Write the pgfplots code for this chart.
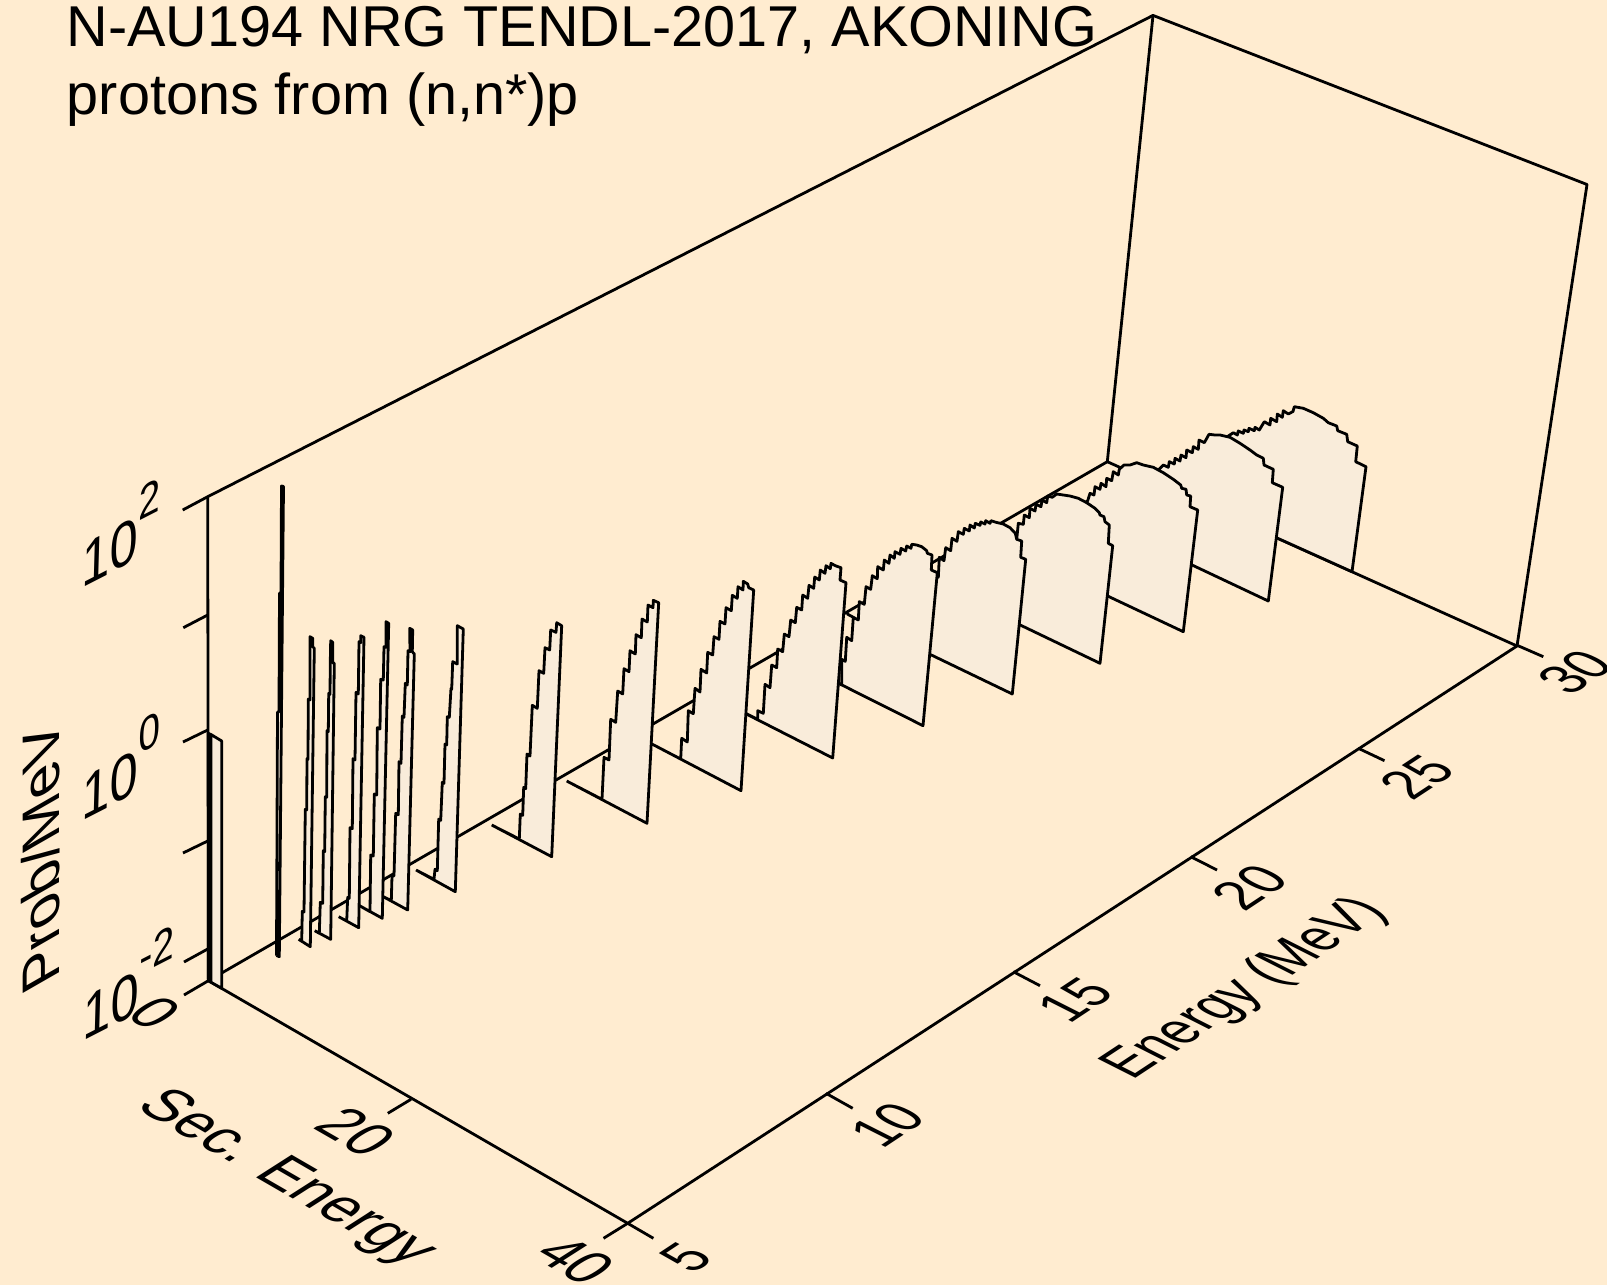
\documentclass[border=0pt]{standalone}
\usepackage{pgfplots}
\usepackage{fontspec}
\setmainfont{Liberation Sans}
\pgfplotsset{compat=1.18}
\definecolor{bg}{HTML}{FFECD0}
\definecolor{slice}{HTML}{F9ECDA}
\tikzset{slc/.style={fill=slice}}
\newcommand\lab[8][60]{\node[cm={#4,#5,#6,#7,(0,0)},anchor=center,inner sep=0pt,font=\fontsize{#1}{#1}\selectfont] at (axis cs:#2,#3) {#8};}
\newcommand\pw[2]{#1\raisebox{36pt}{\fontsize{46}{46}\selectfont #2}}
\begin{document}
\begin{tikzpicture}
\path[use as bounding box, fill=bg] (0,0) rectangle (1607pt,1285pt);
\begin{axis}[at={(0,0)},anchor=south west,x=1pt,y=1pt,xmin=0,xmax=1607,ymin=0,ymax=1285,y dir=reverse,hide axis,clip=false,
  cycle list={{black}},
  every axis plot/.append style={no markers,line width=2.8pt,line join=round,draw=black}]
% frame
\addplot coordinates {(182.7,510)(207.7,496.7)(1153,15.4)(1587,184.5)(1517,646)};
\addplot coordinates {(1153,15.4)(1107.3,461.7)(1517,646)};
\addplot coordinates {(207.7,496.7)(208.4,980.7)(627.7,1223.3)(1517,646)};
\addplot coordinates {(208.4,980.7)(1107.3,461.7)};
% z ticks
\addplot coordinates {(183.3,627.7)(207.7,615)};
\addplot coordinates {(183,742)(207.7,730)};
\addplot coordinates {(183,853)(207.7,841)};
\addplot coordinates {(184,962)(207.7,949)};
\addplot coordinates {(184,995)(208.4,980.7)};
% secondary energy ticks
\addplot coordinates {(411,1099.3)(387.8,1113.3)};
\addplot coordinates {(627.7,1223.3)(603.5,1238.3)};
% energy ticks
\addplot coordinates {(627.7,1223.3)(653.4,1238.3)};
\addplot coordinates {(826,1093.3)(852.7,1108.3)};
\addplot coordinates {(1013.3,971.7)(1040,985.7)};
\addplot coordinates {(1190.8,856.7)(1217,870)};
\addplot coordinates {(1358.3,748.3)(1384.5,760.7)};
\addplot coordinates {(1516.4,645)(1543.3,656.7)};
% slices, back to front
\addplot[slc] coordinates {(1220,512.3)(1221.7,440)(1227.3,436.7)(1233.3,432.7)(1237.3,435)(1238.3,431)(1243.3,433.3)(1244,430)(1248.3,431.7)(1249,428.3)(1254.3,430.7)(1255,427.3)(1259.3,430)(1264.3,421.7)(1270,425)(1270.7,418.3)(1276.7,421.7)(1277.3,414)(1282.3,417.3)(1283.3,410.7)(1288.3,414)(1293,411.5)(1294.3,406.7)(1303.3,408.3)(1313.3,412.7)(1323.3,418.3)(1328.3,422.7)(1336.7,426)(1337.7,430.7)(1346.7,434.3)(1347.7,441.7)(1357.3,446)(1355.7,461.7)(1366,466.7)(1352,571.7)(1220,512.3)};
\addplot[slc] coordinates {(1153.3,546.7)(1155,476.7)(1158.3,470)(1163.3,465)(1168.3,467.3)(1169.3,461.7)(1174.3,464)(1175,458.3)(1180,461)(1181,455)(1186,457.7)(1186.7,450)(1192.3,452.7)(1193.3,446.7)(1198.3,449.3)(1199,440)(1204.3,442.7)(1209,434.3)(1215,435)(1220,435)(1230,437.3)(1240,443.3)(1250,450)(1256.7,455)(1263.3,458.3)(1264,465)(1273.3,469.3)(1272.3,482.7)(1282.7,487.3)(1268.3,601)(1153.3,546.7)};
\addplot[slc] coordinates {(1080,583)(1083.3,505)(1087.7,500.7)(1090,493.3)(1094,495)(1095,486.7)(1100,489.3)(1101,483.3)(1106,486.7)(1106.7,478.3)(1111.7,480.7)(1113.3,471.7)(1118.3,475)(1119.3,469.3)(1124,465)(1130,465)(1136.7,462.7)(1143.3,465)(1153.3,467.3)(1163.3,472.7)(1173.3,479.3)(1180.7,485)(1181.7,488.3)(1186,489.3)(1186.7,495)(1190.7,496)(1190,506.7)(1197.7,510)(1183.3,631.7)(1080,583)};
\addplot[slc] coordinates {(1000,615.3)(1011.7,621)(1015,556.7)(1018.3,523.3)(1023.3,524.3)(1024.3,515)(1029.3,517.7)(1030,508.3)(1035,511)(1036,504.3)(1041,506.7)(1042,500)(1046.7,502.7)(1047.7,496)(1052.3,497.3)(1056.7,494)(1063.3,495)(1070,496)(1078.3,498.3)(1086.7,502.7)(1095,508.3)(1099.3,512.7)(1100,515)(1104,516.7)(1105,521.7)(1109.3,525)(1108.3,543.3)(1112.7,545.7)(1100,663.3)(1000,615.3)};
\addplot[slc] coordinates {(913.3,646.3)(928.3,653.3)(930,593.3)(934,596)(935.3,574.7)(938.3,577.3)(939.3,557.3)(944,560.7)(945.7,547.7)(950.7,550.7)(952,538.3)(957,541.3)(958.3,531.7)(963.3,534.3)(964.3,528.3)(969.3,531)(970,525)(974.3,528)(975.3,523.3)(980,525.3)(980.7,522)(985,524)(985.7,520.7)(990,523.3)(991,520.7)(996,522.3)(1003.3,524)(1010,527.7)(1015.3,533.3)(1016.7,539.3)(1021.7,541)(1020.7,557.3)(1025.7,559.3)(1012.3,694)(913.3,646.3)};
\addplot[slc] coordinates {(820,674)(841.7,685)(841.7,659.3)(845.3,661.3)(846.7,637.3)(851.7,640.7)(853.3,617.3)(847.3,614)(858.3,620)(859.3,601.7)(864.3,604.3)(866,586.7)(870.7,589.3)(872.3,575.7)(877.3,578.7)(877.7,566.7)(883.3,570)(884.3,560)(889,563.3)(890,555)(894.3,558.3)(895,551.7)(900,554.3)(901,548.3)(905.7,551)(906.7,546)(911,548.3)(911.7,544.3)(916.7,545)(921.7,546.7)(926.7,550.7)(927.3,553.3)(932,555)(931.3,570)(937.3,572.7)(923,725.7)(820,674)};
\addplot[slc] coordinates {(730,705.7)(757.7,719.3)(757.7,710.7)(763.3,713.3)(765,684.3)(770,687.7)(771.7,665)(776.7,667.7)(777.7,649)(782.7,651.7)(784.3,634)(789,636.7)(790.7,620)(795.3,622.7)(796.7,607.3)(801.7,610)(802.7,595)(807.7,598.3)(809,585.3)(813.7,588.3)(814.7,577)(819.3,580)(820.3,570)(825,573.3)(826,565.7)(830.3,568.7)(831,563.3)(835.3,565.7)(841,567.7)(840,580)(846,582.7)(832.7,758)(730,705.7)};
\addplot[slc] coordinates {(650,743)(680.7,759)(681.7,738.3)(687.3,742)(688.3,710.7)(693.3,713.7)(695,688.3)(700,692)(701,669.3)(706.7,673)(707.7,652.3)(712.7,655)(714,636.7)(719,639.3)(720,621.3)(725,624)(726,607.7)(731.3,610.7)(732.3,595.3)(737.3,598.3)(738,586.7)(743,590)(743.3,581.3)(747.7,584)(748.7,587.7)(753.7,590)(741,790.7)(650,743)};
\addplot[slc] coordinates {(566.7,781)(602,799.3)(604,757.3)(609,760)(610.7,719.3)(615.7,722.3)(617.7,691)(622.7,694)(624,668.7)(629,671.7)(630,650.7)(635.3,654)(636,634.7)(641.3,637.7)(642,619)(647.3,622)(648,605)(653,607.7)(653.3,600.3)(658.7,602.7)(647,823.3)(566.7,781)};
\addplot[slc] coordinates {(491.7,825)(519.3,839)(520.3,814)(522.7,815.3)(523.7,787.3)(525.7,788.7)(527,754)(530,756)(532.3,705.3)(537.3,708.3)(539,670.7)(543.7,673.3)(545,647.7)(549.7,650)(550.7,630)(556,632.3)(556.7,622.7)(561.7,625.7)(551.7,856.7)(491.7,825)};
\addplot[slc] coordinates {(416,870)(434,879.3)(435,869.3)(437.3,870.7)(438.7,819)(440.7,820.3)(442.3,782.3)(444,783.3)(445,744)(446.7,745)(447.3,716.7)(449.3,717.3)(451,688.3)(451.7,689.3)(452.7,661.7)(457.3,664)(457.3,625.7)(463.3,629)(455.3,891.7)(416,870)};
\addplot[slc] coordinates {(383.3,896.7)(391.3,900.7)(392,876)(394,876)(395.7,813.3)(398.3,814.7)(399,761.7)(401,763.3)(402.3,716)(404,717.3)(405.3,683.3)(407.3,685)(408,650.7)(410,651.7)(409.7,628.3)(412.7,630)(412.3,651.7)(414.3,654)(407.7,910)(383.3,896.7)};
\addplot[slc] coordinates {(358.3,905)(370,911.7)(370.7,855)(373.3,856)(374.3,794)(376.7,795)(377.3,727.7)(380,729)(380.7,679.3)(383.3,680)(384,646.7)(386,647.3)(386,621.7)(388.7,623.3)(382.3,918.3)(358.3,905)};
\addplot[slc] coordinates {(338.7,916.7)(346.7,921)(347.7,897.3)(349.3,898.3)(350,827.7)(352.3,828.7)(353,758.7)(355,760)(356,692.3)(358.3,694)(359,641.7)(360.7,642.7)(360.7,635.7)(364,637.3)(358.7,927.7)(338.7,916.7)};
\addplot[slc] coordinates {(314.7,930.7)(319.3,933.3)(320.3,902.3)(322.7,903.3)(323.3,850.7)(324.7,851.7)(325.3,796.7)(326.7,797.3)(327,730.7)(328.3,731.7)(328.7,693.3)(330,694.3)(330.3,661.7)(330.7,640.7)(332.7,642.3)(332.7,662.7)(334.3,663.3)(330.7,939.3)(314.7,930.7)};
\addplot[slc] coordinates {(298.7,939.3)(301.7,941.3)(302.3,911.3)(304,912)(305.3,809.3)(306.7,810)(307,758.7)(308,759.3)(308.3,699)(310,700)(310,636.7)(312.7,638.3)(312.7,646.7)(314.3,648.3)(310.3,946.7)(298.7,939.3)};
\addplot[slc] coordinates {(276.5,955.5)(277.5,712)(279,712)(279.5,593)(281,593)(281.5,486)(283.5,486.5)(279.3,956.7)(276.5,955.5)};
\addplot[slc] coordinates {(208.3,980.7)(208.3,733.3)(211,734.5)(211,982)(211,734.5)(221.7,741)(221.7,988.3)(208.3,980.7)};
% text
\node[anchor=base west,inner sep=0pt,font=\fontsize{57.6}{57.6}\selectfont] at (axis cs:66.6,46) {N-AU194 NRG TENDL-2017, AKONING};
\node[anchor=base west,inner sep=0pt,font=\fontsize{57.6}{57.6}\selectfont] at (axis cs:66.6,114) {protons from (n,n*)p};
\lab{121}{533}{0.84}{0.43}{0.03}{1.05}{\pw{10}{2}}
\lab{121}{765.7}{0.84}{0.43}{0.03}{1.05}{\pw{10}{0}}
\lab{129}{983.3}{0.84}{0.43}{0.03}{1.05}{\pw{10}{-2}}
\lab{155}{1012.7}{0.78}{-0.45}{0.85}{0.54}{0}
\lab{356}{1131.7}{0.80}{-0.46}{0.86}{0.55}{20}
\lab{575.7}{1260}{0.80}{-0.46}{0.86}{0.55}{40}
\lab{285}{1179}{0.83}{-0.48}{0.86}{0.55}{Sec. Energy}
\lab{686}{1257}{0.71}{0.47}{-0.89}{0.45}{5}
\lab{887.5}{1125}{0.71}{0.47}{-0.89}{0.45}{10}
\lab{1075}{1000}{0.71}{0.47}{-0.89}{0.45}{15}
\lab{1250}{887.5}{0.71}{0.47}{-0.89}{0.45}{20}
\lab{1416.8}{776.7}{0.69}{0.455}{-0.89}{0.45}{25}
\lab{1575}{671.7}{0.69}{0.455}{-0.89}{0.45}{30}
\lab{1246}{989}{0.69}{0.455}{-0.92}{0.465}{Energy (MeV)}
\lab{41}{858}{0}{0.98}{-0.88}{-0.505}{Prob/MeV}
\end{axis}
\end{tikzpicture}
\end{document}
